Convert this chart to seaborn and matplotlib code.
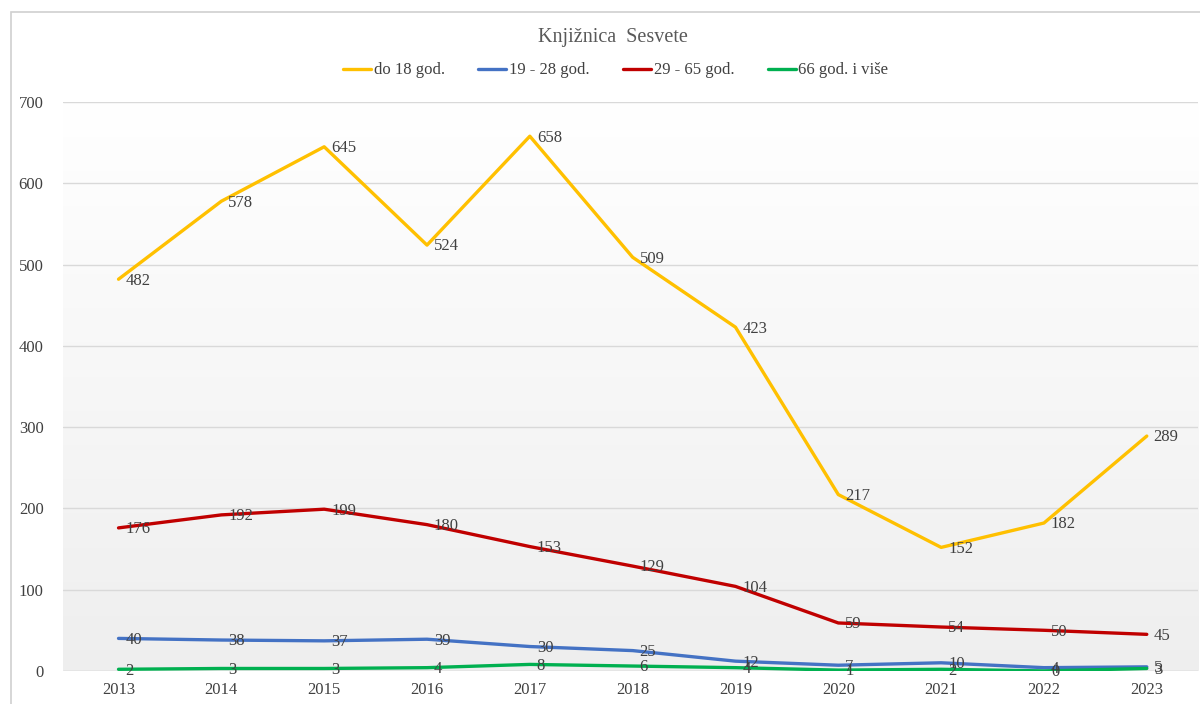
import numpy as np
import pandas as pd
import matplotlib
matplotlib.use("Agg")
import matplotlib.pyplot as plt
import seaborn as sns
from matplotlib.patches import Rectangle

years = [2013, 2014, 2015, 2016, 2017, 2018, 2019, 2020, 2021, 2022, 2023]
do_18 = [482, 578, 645, 524, 658, 509, 423, 217, 152, 182, 289]
od_19_28 = [40, 38, 37, 39, 30, 25, 12, 7, 10, 4, 5]
od_29_65 = [176, 192, 199, 180, 153, 129, 104, 59, 54, 50, 45]
od_66 = [2, 3, 3, 4, 8, 6, 4, 1, 2, 0, 3]

series = {
    "do 18 god.": do_18,
    "19 - 28 god.": od_19_28,
    "29 - 65 god.": od_29_65,
    "66 god. i više": od_66,
}
colors = ["#FFC000", "#4472C4", "#C00000", "#00B050"]

rows = []
for name, vals in series.items():
    for i, (y, v) in enumerate(zip(years, vals)):
        rows.append({"idx": i, "godina": str(y), "serija": name, "broj": v})
df = pd.DataFrame(rows)

sns.set_style("white")
plt.rcParams["font.family"] = ["Liberation Serif", "DejaVu Serif"]

fig = plt.figure(figsize=(12, 7.04), dpi=100)
ax = fig.add_axes([0.0525, 0.047, 0.946, 0.808])

# background gradient white -> light grey
grad = np.linspace(0, 1, 256).reshape(-1, 1)
ax.imshow(np.dstack([1 - 0.065 * grad] * 3), extent=[0, 1, 0, 1], transform=ax.transAxes,
          aspect="auto", origin="upper", zorder=0)

sns.lineplot(data=df, x="idx", y="broj", hue="serija", palette=colors, linewidth=2.4,
             ax=ax, legend=False, zorder=3)

# data labels to the right of each point
for (name, vals), c in zip(series.items(), colors):
    for i, v in enumerate(vals):
        ax.annotate(str(v), (i, v), xytext=(5, -1), textcoords="offset points",
                    ha="left", va="center", fontsize=12, color="#404040", zorder=4)

ax.set_xlim(-0.54, 10.5)
ax.set_ylim(0, 700)
ax.set_yticks(range(0, 701, 100))
ax.set_xticks(range(len(years)))
ax.set_xticklabels([str(y) for y in years])
ax.yaxis.grid(True, color="#d9d9d9", linewidth=1)
ax.set_axisbelow(True)
for s in ax.spines.values():
    s.set_visible(False)
ax.axhline(0, color="#d9d9d9", linewidth=1, zorder=2)
ax.tick_params(axis="both", length=0, labelsize=12, labelcolor="#404040")
ax.tick_params(axis="y", pad=14)
ax.tick_params(axis="x", pad=8)
ax.set_xlabel("")
ax.set_ylabel("")

fig.text(0.511, 0.947, "Knjižnica  Sesvete", ha="center", va="center", fontsize=14.5, color="#595959")

handles = [plt.Line2D([0], [0], color=c, linewidth=2.4) for c in colors]
fig.legend(handles, list(series.keys()), loc="center", bbox_to_anchor=(0.513, 0.9),
           ncol=4, frameon=False, fontsize=12, handlelength=1.7, handletextpad=0.15,
           columnspacing=2.0, labelcolor="#404040")

fig.patches.append(Rectangle((0.009, -0.01), 1.1, 0.993, transform=fig.transFigure,
                             fill=False, edgecolor="#d0d0d0", linewidth=1.2))

fig.savefig("out.png", dpi=100)
